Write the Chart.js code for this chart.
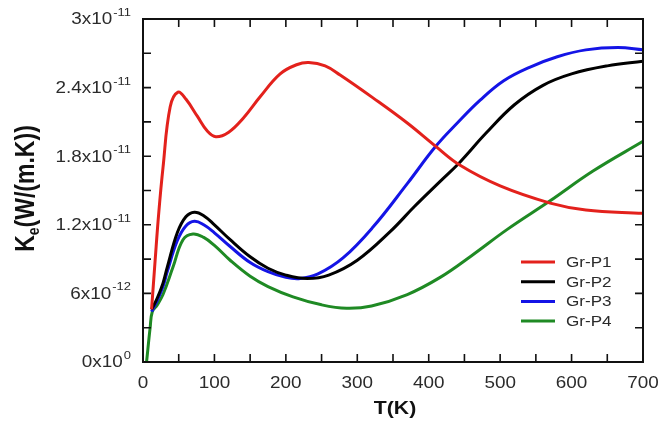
<!DOCTYPE html>
<html>
<head>
<meta charset="utf-8">
<script src="https://cdn.jsdelivr.net/npm/chart.js@4.4.1/dist/chart.umd.min.js"></script>
<style>
html,body{margin:0;padding:0;background:#fff;}
#wrap{width:662px;height:423px;position:relative;}
</style>
</head>
<body>
<div id="wrap"><canvas id="c" width="662" height="423"></canvas></div>
<script>
// ---- data (T in K, Ke in W/(m.K)) ----
const seriesNames = ['Gr-P1', 'Gr-P2', 'Gr-P3', 'Gr-P4'];

const tP1 = [12, 17, 22, 28, 38, 49, 60, 76, 90, 102, 120, 140, 164, 192, 215, 232, 255, 276, 322, 370, 409, 444, 500, 570, 620, 700];
const kP1 = [4.6e-12, 8.9e-12, 13.0e-12, 17.0e-12, 22.3e-12, 23.6e-12, 23.0e-12, 21.5e-12, 20.2e-12, 19.7e-12, 20.1e-12, 21.3e-12, 23.2e-12, 25.2e-12, 26.0e-12, 26.2e-12, 25.9e-12, 25.1e-12, 23.1e-12, 20.9e-12, 18.9e-12, 17.2e-12, 15.4e-12, 13.9e-12, 13.3e-12, 13.0e-12];

const tP2 = [12, 20, 28, 34, 48, 60, 72, 85, 100, 122, 150, 175, 200, 230, 260, 300, 346, 380, 416, 444, 480, 520, 560, 600, 650, 700];
const kP2 = [4.6e-12, 5.6e-12, 6.9e-12, 8.3e-12, 11.3e-12, 12.7e-12, 13.1e-12, 12.8e-12, 12.0e-12, 10.7e-12, 9.2e-12, 8.2e-12, 7.6e-12, 7.3e-12, 7.6e-12, 8.9e-12, 11.4e-12, 13.6e-12, 15.8e-12, 17.5e-12, 20.0e-12, 22.5e-12, 24.2e-12, 25.2e-12, 25.9e-12, 26.3e-12];

const tP3 = [12, 20, 28, 34, 48, 60, 72, 85, 100, 122, 150, 175, 200, 220, 245, 280, 322, 370, 409, 440, 472, 505, 542, 580, 620, 665, 700];
const kP3 = [4.4e-12, 5.4e-12, 6.6e-12, 7.9e-12, 10.6e-12, 11.9e-12, 12.3e-12, 12.0e-12, 11.3e-12, 10.1e-12, 8.7e-12, 7.9e-12, 7.4e-12, 7.3e-12, 7.7e-12, 9.1e-12, 11.8e-12, 15.6e-12, 18.8e-12, 20.9e-12, 22.9e-12, 24.6e-12, 25.8e-12, 26.7e-12, 27.3e-12, 27.5e-12, 27.3e-12];

const tP4 = [5, 10, 13, 20, 28, 42, 56, 70, 85, 100, 122, 150, 175, 210, 250, 285, 320, 370, 416, 460, 510, 570, 630, 700];
const kP4 = [0, 3.0e-12, 4.4e-12, 5.0e-12, 5.9e-12, 8.3e-12, 10.7e-12, 11.2e-12, 10.9e-12, 10.2e-12, 8.9e-12, 7.5e-12, 6.6e-12, 5.7e-12, 5.0e-12, 4.7e-12, 4.9e-12, 5.9e-12, 7.4e-12, 9.3e-12, 11.6e-12, 14.1e-12, 16.7e-12, 19.3e-12];

// axis ticks
const xMajorTicks = [0, 100, 200, 300, 400, 500, 600, 700];
const yMajorTicks = [0, 6e-12, 12e-12, 18e-12, 24e-12, 30e-12];

const colors = ['#e3211c', '#000000', '#1414e6', '#1f8a24'];

function pts(t, k) { return t.map((v, i) => ({ x: v, y: k[i] })); }

const datasets = [[tP1, kP1], [tP2, kP2], [tP3, kP3], [tP4, kP4]].map((s, i) => ({
  label: seriesNames[i],
  data: pts(s[0], s[1]),
  borderColor: colors[i],
  backgroundColor: colors[i],
  borderWidth: 3,
  pointRadius: 0,
  tension: 0.4,
  fill: false
}));

const SX = 1.18; // horizontal text stretch seen in the reference
const TXT = '#2b2b2b';

function sText(ctx, text, x, y, font, align, color, sx) {
  ctx.save();
  ctx.font = font;
  ctx.fillStyle = color;
  ctx.textBaseline = 'middle';
  ctx.translate(x, y);
  ctx.scale(sx, 1);
  ctx.textAlign = align;
  ctx.fillText(text, 0, 0);
  ctx.restore();
}

function splitExp(v) {
  const s = v.toExponential(1);
  let [m, e] = s.split('e');
  m = m.replace(/\.0$/, '');
  let ex = parseInt(e, 10);
  if (v === 0) { m = '0'; ex = 0; }
  return [m, String(ex)];
}

const framePlugin = {
  id: 'frame',
  afterDatasetsDraw(chart) {
    const ctx = chart.ctx;
    const xs = chart.scales.x, ys = chart.scales.y;
    const L = xs.left, R = xs.right, T = ys.top, B = ys.bottom;
    ctx.save();
    ctx.strokeStyle = '#111';
    ctx.lineWidth = 2;
    ctx.strokeRect(L, T, R - L, B - T);
    ctx.lineWidth = 1.6;
    const tl = 8;
    ctx.beginPath();
    for (let v = 0; v <= 700; v += 50) {
      const px = xs.getPixelForValue(v);
      ctx.moveTo(px, B); ctx.lineTo(px, B - tl);
      ctx.moveTo(px, T); ctx.lineTo(px, T + tl);
    }
    for (let i = 0; i <= 10; i++) {
      const py = ys.getPixelForValue(i * 3e-12);
      ctx.moveTo(L, py); ctx.lineTo(L + tl, py);
      ctx.moveTo(R, py); ctx.lineTo(R - tl, py);
    }
    ctx.stroke();
    ctx.restore();

    // x tick labels
    xMajorTicks.forEach(v => {
      sText(ctx, String(v), xs.getPixelForValue(v), B + 22, '16px "Liberation Sans", Arial, sans-serif', 'center', TXT, SX);
    });
    // y tick labels with superscript exponent
    yMajorTicks.forEach(v => {
      const [m, e] = splitExp(v);
      const py = ys.getPixelForValue(v);
      const baseFont = '16px "Liberation Sans", Arial, sans-serif';
      const supFont = '11px "Liberation Sans", Arial, sans-serif';
      ctx.save();
      ctx.font = supFont;
      const supW = ctx.measureText(e).width * SX;
      ctx.restore();
      const right = L - 12;
      sText(ctx, e, right, py - 6, supFont, 'right', TXT, SX);
      sText(ctx, m + 'x10', right - supW - 1, py + 1, baseFont, 'right', TXT, SX);
    });

    // axis titles
    sText(ctx, 'T(K)', (L + R) / 2 + 2, B + 47, 'bold 18px "Liberation Sans", Arial, sans-serif', 'center', '#111', SX);
    // y title rotated: K with subscript e
    ctx.save();
    ctx.translate(27, (T + B) / 2 - 2);
    ctx.scale(SX, 1);
    ctx.rotate(-Math.PI / 2);
    ctx.fillStyle = '#111';
    ctx.textBaseline = 'middle';
    const f1 = 'bold 23px "Liberation Sans", Arial, sans-serif';
    const f2 = 'bold 14px "Liberation Sans", Arial, sans-serif';
    ctx.font = f1; const wK = ctx.measureText('K').width;
    const wRest = ctx.measureText('(W/(m.K))').width;
    ctx.font = f2; const wE = ctx.measureText('e').width;
    const total = wK + wE + wRest;
    let x0 = -total / 2;
    ctx.textAlign = 'left';
    ctx.font = f1; ctx.fillText('K', x0, 0); x0 += wK;
    ctx.font = f2; ctx.fillText('e', x0, 6); x0 += wE;
    ctx.font = f1; ctx.fillText('(W/(m.K))', x0, 0);
    ctx.restore();

    // legend
    chart.data.datasets.forEach((ds, i) => {
      const y = 262 + i * 19.7;
      ctx.save();
      ctx.strokeStyle = ds.borderColor;
      ctx.lineWidth = 3;
      ctx.beginPath(); ctx.moveTo(521, y); ctx.lineTo(555, y); ctx.stroke();
      ctx.restore();
      sText(ctx, ds.label, 566, y + 1, '14.5px "Liberation Sans", Arial, sans-serif', 'left', TXT, SX);
    });
  }
};

new Chart(document.getElementById('c'), {
  type: 'line',
  data: { datasets },
  options: {
    responsive: false,
    animation: false,
    layout: { padding: { left: 143, right: 19, top: 19, bottom: 61 } },
    plugins: { legend: { display: false }, tooltip: { enabled: false } },
    scales: {
      x: {
        type: 'linear', min: 0, max: 700,
        ticks: { display: false, stepSize: 50 },
        grid: { display: false, drawTicks: false },
        border: { display: false }
      },
      y: {
        type: 'linear', min: 0, max: 30e-12,
        ticks: { display: false, stepSize: 3e-12 },
        grid: { display: false, drawTicks: false },
        border: { display: false }
      }
    }
  },
  plugins: [framePlugin]
});
</script>
</body>
</html>
